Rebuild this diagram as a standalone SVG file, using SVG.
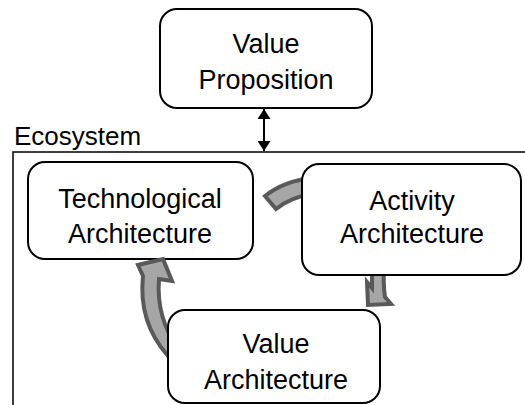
<svg xmlns="http://www.w3.org/2000/svg" width="525" height="405" viewBox="0 0 525 405">
<style>
.box{fill:#ffffff;stroke:#000000;stroke-width:2}
.t{font-family:"Liberation Sans",Arial,sans-serif;font-size:27px;fill:#000000;text-anchor:middle}
.cyc{fill:#a6a6a6;stroke:#595959;stroke-width:4;stroke-linejoin:miter}
.frame{fill:none;stroke:#000000;stroke-width:1.5}
</style>
<defs>
<marker id="ah" viewBox="0 0 10 13" refX="10" refY="6.5" markerWidth="10" markerHeight="13" markerUnits="userSpaceOnUse" orient="auto-start-reverse">
<path d="M0,0 L10,6.5 L0,13 Z" fill="#000000"/>
</marker>
</defs>
<g id="ecosystem">
<path class="frame" d="M13,405 L13,152 L525,152"/>
<text x="14" y="145" font-family="Liberation Sans, Arial, sans-serif" font-size="26" fill="#000000">Ecosystem</text>
</g>
<g id="value-proposition">
<rect class="box" x="160" y="9" width="212" height="99" rx="17"/>
<text class="t" x="266" y="53">Value</text>
<text class="t" x="266" y="89">Proposition</text>
</g>
<g id="technological-architecture">
<rect class="box" x="28" y="162" width="225" height="97" rx="17"/>
<text class="t" x="140" y="208">Technological</text>
<text class="t" x="140" y="243">Architecture</text>
</g>
<g id="connectors">
<line x1="264" y1="109" x2="264" y2="151" stroke="#000000" stroke-width="2" marker-start="url(#ah)" marker-end="url(#ah)"/>
<path class="cyc" d="M312,178 Q284,181 265,196 L276,209 Q291,197 312,194 Z"/>
<path class="cyc" d="M372,265 L372,288 L367,282 L368,305 L391,304 L385,297 Q383,284 384,265 Z"/>
<path class="cyc" d="M163,259 L172,281 L159,279 Q156,318 178,348 L168,356 Q138,322 143,276 L138,265 Z"/>
</g>
<g id="activity-architecture">
<rect class="box" x="302" y="164" width="219" height="111" rx="17"/>
<text class="t" x="412" y="210">Activity</text>
<text class="t" x="412" y="243">Architecture</text>
</g>
<g id="value-architecture">
<rect class="box" x="168" y="310" width="212" height="93" rx="17"/>
<text class="t" x="276" y="353">Value</text>
<text class="t" x="276" y="389">Architecture</text>
</g>
</svg>
